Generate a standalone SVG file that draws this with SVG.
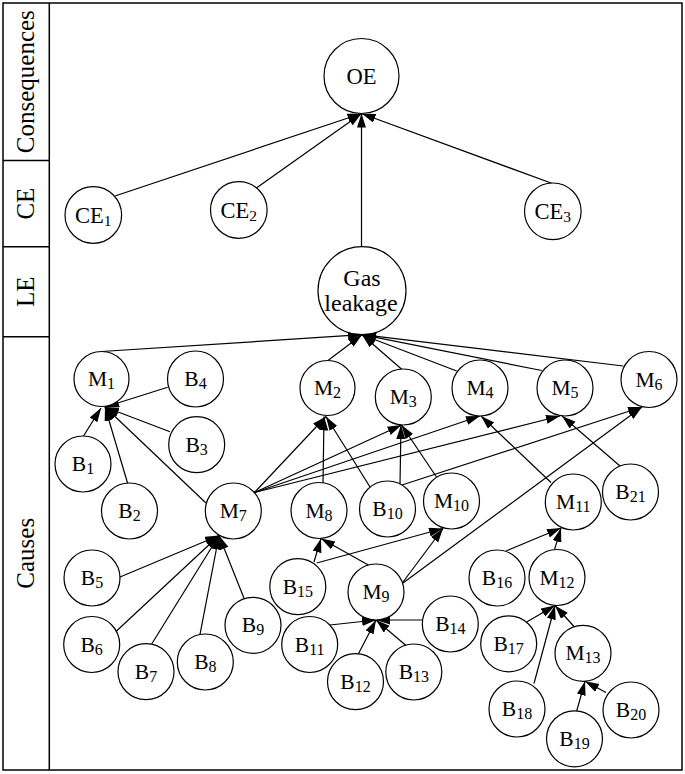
<svg xmlns="http://www.w3.org/2000/svg" width="685" height="774" viewBox="0 0 685 774">
<defs>
<marker id="ah" markerUnits="userSpaceOnUse" markerWidth="15" markerHeight="10" refX="14" refY="4.5" orient="auto"><path d="M0,0 L14,4.5 L0,9 z" fill="#000"/></marker>
<style>
.n circle{fill:#fff;stroke:#000;stroke-width:1.2}
.n text{font-family:"Liberation Serif","Times New Roman",serif;font-size:21.5px;text-anchor:middle;fill:#000}
.n tspan{font-size:16px}
.big text{font-size:22.5px}
.big tspan{font-size:15.5px}
#gl text{font-size:24px}
#edges line{stroke:#000;stroke-width:1.2;marker-end:url(#ah)}
.frame{fill:none;stroke:#000;stroke-width:1.5}
.lane{font-family:"Liberation Serif","Times New Roman",serif;font-size:25px;text-anchor:middle;fill:#000}
</style>
</defs>
<rect width="685" height="774" fill="#fff"/>
<g id="frame">
<rect class="frame" x="3" y="3" width="679" height="767"/>
<line class="frame" x1="49.3" y1="3" x2="49.3" y2="770"/>
<line class="frame" x1="3" y1="160.5" x2="49.3" y2="160.5"/>
<line class="frame" x1="3" y1="246.7" x2="49.3" y2="246.7"/>
<line class="frame" x1="3" y1="336.7" x2="49.3" y2="336.7"/>
<text class="lane" transform="translate(34,81.7) rotate(-90)">Consequences</text>
<text class="lane" transform="translate(34,203.6) rotate(-90)">CE</text>
<text class="lane" transform="translate(34,291.7) rotate(-90)">LE</text>
<text class="lane" transform="translate(34,553.3) rotate(-90)">Causes</text>
</g>
<g id="edges">
<line x1="115" y1="196" x2="361.5" y2="113.5"/>
<line x1="256" y1="188.3" x2="361.5" y2="113.5"/>
<line x1="361.5" y1="246.7" x2="361.5" y2="113.5"/>
<line x1="551.7" y1="183.3" x2="361.5" y2="113.5"/>
<line x1="101.5" y1="351.5" x2="362" y2="334.7"/>
<line x1="328.3" y1="360.3" x2="362" y2="334.7"/>
<line x1="401.7" y1="369.2" x2="362" y2="334.7"/>
<line x1="456.7" y1="371" x2="362" y2="334.7"/>
<line x1="541.7" y1="370.5" x2="362" y2="334.7"/>
<line x1="623.3" y1="366" x2="362" y2="334.7"/>
<line x1="167.7" y1="387.3" x2="105" y2="407"/>
<line x1="170" y1="431.7" x2="105" y2="407"/>
<line x1="83.5" y1="436" x2="101" y2="408"/>
<line x1="127.7" y1="483.5" x2="105" y2="407"/>
<line x1="205.7" y1="502.7" x2="105" y2="407"/>
<line x1="254.5" y1="492.5" x2="326" y2="416.5"/>
<line x1="323" y1="483" x2="324" y2="416.5"/>
<line x1="370" y1="487" x2="326" y2="416.5"/>
<line x1="254.5" y1="492.5" x2="401.5" y2="425"/>
<line x1="400" y1="484" x2="401" y2="425"/>
<line x1="436.5" y1="477" x2="401.5" y2="425"/>
<line x1="254.5" y1="492.5" x2="480" y2="416"/>
<line x1="551" y1="482.5" x2="481" y2="416"/>
<line x1="254.5" y1="492.5" x2="560" y2="416"/>
<line x1="620" y1="466" x2="562" y2="416"/>
<line x1="402" y1="485" x2="642" y2="407"/>
<line x1="403" y1="583" x2="642" y2="407"/>
<line x1="120" y1="577" x2="219" y2="535.5"/>
<line x1="116.5" y1="631" x2="219" y2="535.5"/>
<line x1="151.7" y1="644" x2="219" y2="535.5"/>
<line x1="200" y1="634.3" x2="219" y2="535.5"/>
<line x1="244" y1="598.3" x2="219" y2="535.5"/>
<line x1="314" y1="562" x2="321" y2="538.5"/>
<line x1="368.3" y1="565" x2="321" y2="538.5"/>
<line x1="316.7" y1="563" x2="443" y2="528.5"/>
<line x1="403" y1="582" x2="443" y2="528.5"/>
<line x1="330" y1="625" x2="376" y2="620"/>
<line x1="358.3" y1="654" x2="376" y2="620"/>
<line x1="406" y1="645.5" x2="376" y2="620"/>
<line x1="422.5" y1="620" x2="376" y2="620"/>
<line x1="506" y1="551" x2="561" y2="528"/>
<line x1="554.5" y1="549.7" x2="561" y2="528"/>
<line x1="526.7" y1="622" x2="555" y2="605.5"/>
<line x1="534" y1="683.5" x2="555" y2="605.5"/>
<line x1="574" y1="626.5" x2="555" y2="605.5"/>
<line x1="576.7" y1="711" x2="585" y2="681.3"/>
<line x1="606" y1="692.5" x2="585" y2="681.3"/>
</g>
<g id="OE" class="n big"><circle cx="361.5" cy="76" r="37.5"/><text x="361.5" y="84">OE</text></g>
<g id="CE1" class="n big"><circle cx="93.3" cy="215" r="28.3"/><text x="93.3" y="223">CE<tspan dy="2.5">1</tspan></text></g>
<g id="CE2" class="n big"><circle cx="238.8" cy="210" r="28.3"/><text x="238.8" y="218">CE<tspan dy="2.5">2</tspan></text></g>
<g id="CE3" class="n big"><circle cx="552.8" cy="211.3" r="28.3"/><text x="552.8" y="219.3">CE<tspan dy="2.5">3</tspan></text></g>
<g id="gl" class="n"><circle cx="362" cy="290.7" r="44"/><text x="362" y="286">Gas</text><text x="361" y="311">leakage</text></g>
<g id="M1" class="n"><circle cx="101.5" cy="379" r="27.5"/><text x="101.5" y="386">M<tspan dy="3">1</tspan></text></g>
<g id="B4" class="n"><circle cx="195.5" cy="379" r="28"/><text x="195.5" y="386">B<tspan dy="3">4</tspan></text></g>
<g id="B3" class="n"><circle cx="196.7" cy="444.7" r="28"/><text x="196.7" y="451.7">B<tspan dy="3">3</tspan></text></g>
<g id="B1" class="n"><circle cx="83" cy="464" r="28"/><text x="83" y="471">B<tspan dy="3">1</tspan></text></g>
<g id="B2" class="n"><circle cx="129.5" cy="511" r="28"/><text x="129.5" y="518">B<tspan dy="3">2</tspan></text></g>
<g id="M7" class="n"><circle cx="233.3" cy="511" r="28"/><text x="233.3" y="518">M<tspan dy="3">7</tspan></text></g>
<g id="M2" class="n"><circle cx="327.5" cy="388" r="27.5"/><text x="327.5" y="395">M<tspan dy="3">2</tspan></text></g>
<g id="M3" class="n"><circle cx="403.3" cy="397" r="28"/><text x="403.3" y="404">M<tspan dy="3">3</tspan></text></g>
<g id="M4" class="n"><circle cx="480" cy="388" r="28"/><text x="480" y="395">M<tspan dy="3">4</tspan></text></g>
<g id="M5" class="n"><circle cx="565" cy="388" r="28"/><text x="565" y="395">M<tspan dy="3">5</tspan></text></g>
<g id="M6" class="n"><circle cx="649" cy="379.5" r="28"/><text x="649" y="386.5">M<tspan dy="3">6</tspan></text></g>
<g id="M8" class="n"><circle cx="319" cy="510.5" r="28"/><text x="319" y="517.5">M<tspan dy="3">8</tspan></text></g>
<g id="B10" class="n"><circle cx="387.5" cy="509" r="28"/><text x="387.5" y="516">B<tspan dy="3">10</tspan></text></g>
<g id="M10" class="n"><circle cx="451.5" cy="501" r="28"/><text x="451.5" y="508">M<tspan dy="3">10</tspan></text></g>
<g id="M11" class="n"><circle cx="573.3" cy="502" r="28"/><text x="573.3" y="509">M<tspan dy="3">11</tspan></text></g>
<g id="B21" class="n"><circle cx="630.5" cy="492" r="28"/><text x="630.5" y="499">B<tspan dy="3">21</tspan></text></g>
<g id="B5" class="n"><circle cx="92" cy="578" r="28"/><text x="92" y="585">B<tspan dy="3">5</tspan></text></g>
<g id="B6" class="n"><circle cx="91.7" cy="644.5" r="28"/><text x="91.7" y="651.5">B<tspan dy="3">6</tspan></text></g>
<g id="B7" class="n"><circle cx="146" cy="671.7" r="28"/><text x="146" y="678.7">B<tspan dy="3">7</tspan></text></g>
<g id="B8" class="n"><circle cx="205.3" cy="662" r="28"/><text x="205.3" y="669">B<tspan dy="3">8</tspan></text></g>
<g id="B9" class="n"><circle cx="253" cy="625.3" r="28"/><text x="253" y="632.3">B<tspan dy="3">9</tspan></text></g>
<g id="B15" class="n"><circle cx="297.8" cy="586.7" r="28"/><text x="297.8" y="593.7">B<tspan dy="3">15</tspan></text></g>
<g id="M9" class="n"><circle cx="376" cy="592" r="28"/><text x="376" y="599">M<tspan dy="3">9</tspan></text></g>
<g id="B11" class="n"><circle cx="309.7" cy="644.5" r="28"/><text x="309.7" y="651.5">B<tspan dy="3">11</tspan></text></g>
<g id="B12" class="n"><circle cx="355.5" cy="681.7" r="28"/><text x="355.5" y="688.7">B<tspan dy="3">12</tspan></text></g>
<g id="B13" class="n"><circle cx="413.8" cy="672" r="28"/><text x="413.8" y="679">B<tspan dy="3">13</tspan></text></g>
<g id="B14" class="n"><circle cx="450.3" cy="624" r="28"/><text x="450.3" y="631">B<tspan dy="3">14</tspan></text></g>
<g id="B16" class="n"><circle cx="497" cy="578" r="28"/><text x="497" y="585">B<tspan dy="3">16</tspan></text></g>
<g id="M12" class="n"><circle cx="557" cy="577.5" r="28"/><text x="557" y="584.5">M<tspan dy="3">12</tspan></text></g>
<g id="B17" class="n"><circle cx="508.7" cy="643.8" r="28"/><text x="508.7" y="650.8">B<tspan dy="3">17</tspan></text></g>
<g id="M13" class="n"><circle cx="583" cy="653.3" r="28"/><text x="583" y="660.3">M<tspan dy="3">13</tspan></text></g>
<g id="B18" class="n"><circle cx="517" cy="709" r="28"/><text x="517" y="716">B<tspan dy="3">18</tspan></text></g>
<g id="B19" class="n"><circle cx="574.5" cy="738.8" r="28"/><text x="574.5" y="745.8">B<tspan dy="3">19</tspan></text></g>
<g id="B20" class="n"><circle cx="631" cy="710" r="28"/><text x="631" y="717">B<tspan dy="3">20</tspan></text></g>
</svg>
